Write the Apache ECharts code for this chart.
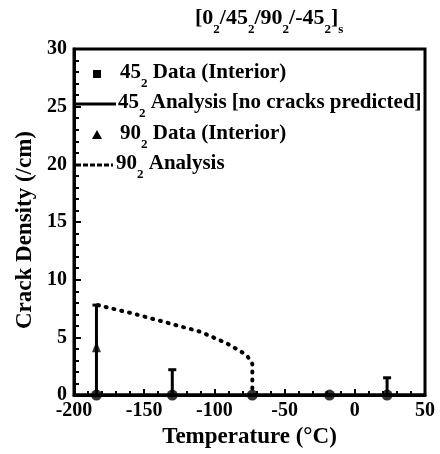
<!DOCTYPE html>
<html><head><meta charset="utf-8">
<script src="https://cdn.jsdelivr.net/npm/echarts@6/dist/echarts.min.js"></script>
<style>html,body{margin:0;padding:0;background:#fff}#c{width:440px;height:454px}</style>
</head><body><div id="c"></div>
<script>
// ---- data ----
const xTicks = [-200, -150, -100, -50, 0, 50];
const yTicks = [0, 5, 10, 15, 20, 25, 30];
const data45 = [[-184, 0], [-130, 0], [-73, 0], [-18, 0], [23, 0]];
const err45 = [[-130, 0, 2.2], [23, 0, 1.5]];
const data90 = [[-184, 4.2]];
const err90 = [[-184, 0, 7.8]];
const analysis45 = [[-200, 0], [50, 0]];
const analysis90 = [[-183, 7.8], [-158, 7.07], [-129, 6.12], [-110, 5.49], [-91, 4.48], [-77, 3.47], [-73, 2.7], [-73, 0]];
const legendNames = ['45_2 Data (Interior)', '45_2 Analysis [no cracks predicted]', '90_2 Data (Interior)', '90_2 Analysis'];
const titleText = '[0_2/45_2/90_2/-45_2]_s';

const FF = 'Liberation Serif';
function toRich(str) {
  return str.split(/(_\w)/).filter(s => s.length).map(s => s[0] === '_' ? '{s|' + s.slice(1) + '}' : '{n|' + s + '}').join('');
}
function richStyle(size, subSize, subPad) {
  return {
    n: {fontSize: size, fontFamily: FF, fontWeight: 'bold', color: '#000', lineHeight: size + 2, verticalAlign: 'top'},
    s: {fontSize: subSize, fontFamily: FF, fontWeight: 'bold', color: '#000', lineHeight: subSize, padding: [subPad, 0, 0, 0], verticalAlign: 'top'}
  };
}

const chart = echarts.init(document.getElementById('c'), null, {renderer: 'canvas'});

function errItem(params, api) {
  const x = api.value(0), lo = api.value(1), hi = api.value(2);
  const p1 = api.coord([x, lo]), p2 = api.coord([x, hi]);
  return {
    type: 'group',
    children: [
      {type: 'line', shape: {x1: p1[0], y1: p1[1], x2: p2[0], y2: p2[1]}, style: {stroke: '#000', lineWidth: 3}},
      {type: 'line', shape: {x1: p2[0] - 4, y1: p2[1], x2: p2[0] + 4, y2: p2[1]}, style: {stroke: '#000', lineWidth: 3}}
    ]
  };
}

const rowY = [74, 104, 135, 165];
const graphics = [];
// legend symbols
graphics.push({type: 'rect', shape: {x: 93, y: rowY[0] - 4, width: 8, height: 8}, style: {fill: '#000'}});
graphics.push({type: 'line', shape: {x1: 75, y1: rowY[1], x2: 116, y2: rowY[1]}, style: {stroke: '#000', lineWidth: 3}});
graphics.push({type: 'polygon', shape: {points: [[97, rowY[2] - 5], [92, rowY[2] + 4], [102, rowY[2] + 4]]}, style: {fill: '#000'}});
graphics.push({type: 'line', shape: {x1: 76, y1: rowY[3], x2: 113, y2: rowY[3]}, style: {stroke: '#000', lineWidth: 3, lineDash: [5, 2]}});
const textX = [120, 118, 120, 116];
legendNames.forEach((nm, i) => {
  graphics.push({type: 'text', x: textX[i], y: rowY[i] - 12,
    style: {text: toRich(nm), rich: richStyle(21, 13, 15), align: 'left', verticalAlign: 'top'}});
});

const option = {
  animation: false,
  backgroundColor: '#fff',
  title: {
    text: toRich(titleText),
    left: 190, top: 2,
    textStyle: {rich: richStyle(22, 13, 16)}
  },
  grid: {left: 74, right: 15, top: 49, bottom: 57, show: true, borderColor: '#000', borderWidth: 3},
  xAxis: {
    type: 'value', min: xTicks[0], max: xTicks[xTicks.length - 1], interval: 50,
    name: 'Temperature (°C)', nameLocation: 'middle', nameGap: 30,
    nameTextStyle: {fontFamily: FF, fontSize: 23, fontWeight: 'bold', color: '#000'},
    axisLine: {show: true, onZero: false, lineStyle: {color: '#000', width: 3}},
    axisTick: {show: true, inside: true, length: 6, lineStyle: {color: '#000', width: 2}},
    minorTick: {show: true, splitNumber: 5, length: 4, lineStyle: {color: '#000', width: 2}},
    axisLabel: {fontFamily: FF, fontSize: 20, fontWeight: 'bold', color: '#000', margin: 6,
      formatter: v => xTicks.includes(v) ? String(v) : ''},
    splitLine: {show: false}
  },
  yAxis: {
    type: 'value', min: yTicks[0], max: yTicks[yTicks.length - 1], interval: 5,
    name: 'Crack Density (/cm)', nameLocation: 'middle', nameGap: 37,
    nameTextStyle: {fontFamily: FF, fontSize: 23, fontWeight: 'bold', color: '#000', padding: [0, 16, 0, 0]},
    axisLine: {show: true, onZero: false, lineStyle: {color: '#000', width: 3}},
    axisTick: {show: true, inside: true, length: 7, lineStyle: {color: '#000', width: 2}},
    minorTick: {show: true, splitNumber: 5, length: 5, lineStyle: {color: '#000', width: 2}},
    axisLabel: {fontFamily: FF, fontSize: 20, fontWeight: 'bold', color: '#000', margin: 7,
      formatter: v => yTicks.includes(v) ? String(v) : ''},
    splitLine: {show: false}
  },
  graphic: graphics,
  series: [
    {name: '45 analysis', type: 'line', data: analysis45, showSymbol: false, lineStyle: {color: '#000', width: 3}},
    {name: '90 analysis', type: 'line', data: analysis90, showSymbol: false, smooth: false,
      lineStyle: {color: '#000', width: 4, type: [1, 7], cap: 'round'}},
    {name: '45 err', type: 'custom', data: err45, renderItem: errItem},
    {name: '90 err', type: 'custom', data: err90, renderItem: errItem},
    {name: '45 data', type: 'scatter', data: data45, symbol: 'circle', symbolSize: 11, itemStyle: {color: '#000'}},
    {name: '90 data', type: 'scatter', data: data90, symbol: 'triangle', symbolSize: [9, 11], itemStyle: {color: '#000'}}
  ]
};
chart.setOption(option);
</script>
</body></html>
